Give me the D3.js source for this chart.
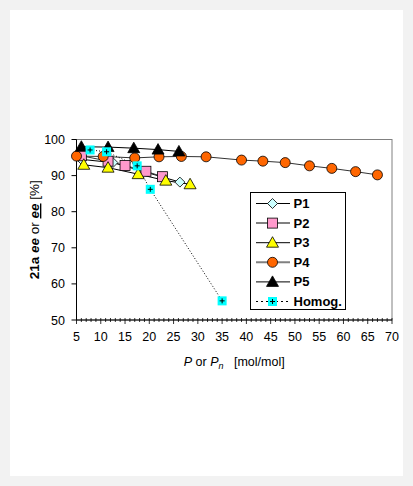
<!DOCTYPE html>
<html><head><meta charset="utf-8">
<script src="https://cdn.jsdelivr.net/npm/d3@7"></script>
<style>
html,body{margin:0;padding:0;background:#f2f2f2;}
svg{display:block;}
text{font-family:Arial,"Liberation Sans",sans-serif;}
</style></head>
<body>
<svg id="c" width="413" height="486"></svg>
<script>
// ---- data ----
const P1 = [[6,94.5],[12.5,93.6],[26.3,88.2]];
const P2 = [[6,95.5],[11.5,94.0],[15,92.8],[19.3,91.2],[22.7,89.7]];
const P3 = [[6.5,93.0],[11.5,92.2],[17.7,90.4],[23.4,88.6],[28.4,87.6]];
const P4 = [[5,95.4],[10.5,95.3],[17,94.9],[22,95.2],[26.6,95.3],[31.7,95.2],[39,94.3],[43.4,94.0],[48,93.6],[53,92.7],[57.6,92.0],[62.5,91.1],[67,90.2]];
const P5 = [[6,98.0],[11.5,97.9],[16.8,97.6],[21.8,97.2],[26.1,96.7]];
const Homog = [[7.8,97.1],[11.2,96.6],[17.5,92.7],[20.2,86.2],[35,55.3]];
const xTicks = [5,10,15,20,25,30,35,40,45,50,55,60,65,70];
const yTicks = [50,60,70,80,90,100];
const seriesNames = ["P1","P2","P3","P4","P5","Homog."];

const svg = d3.select("#c");
svg.append("rect").attr("x",10).attr("y",10).attr("width",393).attr("height",466).attr("fill","#fff");

const x = d3.scaleLinear().domain([5,70]).range([76.5,392]);
const y = d3.scaleLinear().domain([50,100]).range([320,139.5]);

// frame
svg.append("rect").attr("x",x(5)).attr("y",y(100)).attr("width",x(70)-x(5)).attr("height",y(50)-y(100))
  .attr("fill","none").attr("stroke","#808080").attr("stroke-width",1);

// x axis
const xa = svg.append("g").attr("transform",`translate(0,${y(50)})`);
xa.append("line").attr("x1",x(5)).attr("x2",x(70)).attr("stroke","#000");
d3.range(5,71,1).forEach(v=>{
  const major = v%5===0;
  xa.append("line").attr("x1",x(v)).attr("x2",x(v)).attr("y1",-2).attr("y2",major?4:2).attr("stroke","#000").attr("stroke-width",0.8);
});
xa.selectAll("text.t").data(xTicks).join("text").attr("class","t")
  .attr("x",d=>x(d)).attr("y",21).attr("text-anchor","middle").attr("font-size",12.5).text(d=>d);

// y axis
const ya = svg.append("g").attr("transform",`translate(${x(5)},0)`);
ya.append("line").attr("y1",y(50)).attr("y2",y(100)).attr("stroke","#000");
yTicks.forEach(v=>{
  ya.append("line").attr("x1",-5).attr("x2",0).attr("y1",y(v)).attr("y2",y(v)).attr("stroke","#000");
});
ya.selectAll("text.t").data(yTicks).join("text").attr("class","t")
  .attr("x",-11.5).attr("y",d=>y(d)+4.5).attr("text-anchor","end").attr("font-size",12.5).text(d=>d);

// axis titles
const xt = svg.append("text").attr("x",x(37.5)).attr("y",366).attr("text-anchor","middle").attr("font-size",12.5);
xt.append("tspan").attr("font-style","italic").text("P");
xt.append("tspan").text("\u00a0or\u00a0");
xt.append("tspan").attr("font-style","italic").text("P");
xt.append("tspan").attr("font-style","italic").attr("font-size",9).attr("dy",3).text("n");
xt.append("tspan").attr("dy",-3).text("\u00a0\u00a0\u00a0[mol/mol]");

const yt = svg.append("text").attr("transform",`translate(39,${(y(50)+y(100))/2}) rotate(-90)`)
  .attr("text-anchor","middle").attr("font-size",13.5).attr("font-weight","bold");
yt.append("tspan").text("21a ");
yt.append("tspan").attr("font-style","italic").text("ee");
yt.append("tspan").attr("font-weight","normal").text(" or ");
yt.append("tspan").attr("font-style","italic").attr("text-decoration","underline").text("ee");
yt.append("tspan").attr("font-weight","normal").text(" [%]");

// marker drawers
function marker(g, type){
  if(type==="diamond") g.append("path").attr("d","M0,-5L5,0L0,5L-5,0Z").attr("fill","#ccffff").attr("stroke","#000").attr("stroke-width",0.8);
  else if(type==="square") g.append("rect").attr("x",-5).attr("y",-5).attr("width",10).attr("height",10).attr("fill","#ff99cc").attr("stroke","#000").attr("stroke-width",0.8);
  else if(type==="triY") g.append("path").attr("d","M0,-6L6,4.5L-6,4.5Z").attr("fill","#ffff00").attr("stroke","#000").attr("stroke-width",0.8);
  else if(type==="circle") g.append("circle").attr("r",5).attr("fill","#ff6600").attr("stroke","#000").attr("stroke-width",0.8);
  else if(type==="triK") g.append("path").attr("d","M0,-6L6,4.5L-6,4.5Z").attr("fill","#000").attr("stroke","#000").attr("stroke-width",0.8);
  else if(type==="homog"){
    g.append("rect").attr("x",-4.5).attr("y",-4.5).attr("width",9).attr("height",9).attr("fill","#00ffff");
    g.append("path").attr("d","M-2.5,0H2.5M0,-2.5V2.5").attr("stroke","#000").attr("stroke-width",1);
  }
}

const series = [
  {name:"P1", data:P1, m:"diamond", stroke:"#000", w:1, dash:null},
  {name:"P2", data:P2, m:"square", stroke:"#333", w:1, dash:null},
  {name:"P3", data:P3, m:"triY", stroke:"#000", w:1, dash:null},
  {name:"P4", data:P4, m:"circle", stroke:"#333", w:1, dash:null},
  {name:"P5", data:P5, m:"triK", stroke:"#000", w:1, dash:null},
  {name:"Homog.", data:Homog, m:"homog", stroke:"#000", w:1, dash:"1,2"}
];
const legendStroke = {"P1":"#000","P2":"#808080","P3":"#000","P4":"#808080","P5":"#000","Homog.":"#000"};
const line = d3.line().x(d=>x(d[0])).y(d=>y(d[1]));

series.forEach(s=>{
  svg.append("path").attr("d",line(s.data)).attr("fill","none").attr("stroke",s.stroke).attr("stroke-width",s.w)
    .attr("stroke-dasharray",s.dash);
});
series.forEach(s=>{
  s.data.forEach(d=>{
    const g = svg.append("g").attr("transform",`translate(${x(d[0])},${y(d[1])})`);
    marker(g,s.m);
  });
});

// legend
const lg = svg.append("g");
lg.append("rect").attr("x",250.5).attr("y",192.5).attr("width",95).attr("height",117).attr("fill","#fff").attr("stroke","#000").attr("stroke-width",1);
series.forEach((s,i)=>{
  const yy = 203.5 + i*19.6;
  lg.append("line").attr("x1",256).attr("x2",290).attr("y1",yy).attr("y2",yy)
    .attr("stroke",legendStroke[s.name]).attr("stroke-width",s.dash?1:(legendStroke[s.name]==="#808080"?2:1))
    .attr("stroke-dasharray",s.dash?"2,3":null);
  marker(lg.append("g").attr("transform",`translate(272.5,${yy})`), s.m);
  lg.append("text").attr("x",293.5).attr("y",yy+4.5).attr("font-size",13).attr("font-weight","bold").text(s.name);
});
</script>
</body></html>
